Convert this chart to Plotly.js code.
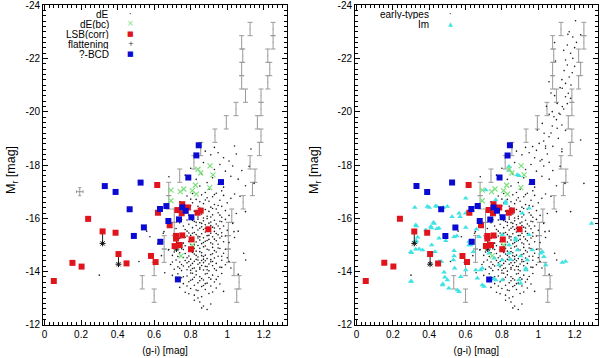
<!DOCTYPE html>
<html>
<head>
<meta charset="utf-8">
<script src="https://cdn.plot.ly/plotly-3.0.1.min.js"></script>
<style>
  body { margin: 0; background: #fff; }
  #chart { width: 600px; height: 358px; }
</style>
</head>
<body>
<div id="chart"></div>
<script>
// colour-magnitude diagram, two panels: (g-i) vs M_r

// running band limits (grey error bars), same in both panels
var bandMag = [-13.1, -13.6, -14.1, -14.6, -15.1, -15.6, -16.1, -16.6, -17.1, -17.6, -18.1,
               -18.6, -19.1, -19.6, -20.1, -20.6, -21.1, -21.6, -22.1, -22.6, -23.1];
var bandInner = [0.60, 0.535, 0.60, 0.655, 0.655, 0.71, 0.71, 0.68, 0.68, 0.74, 0.818,
                 0.855, 0.933, 0.995, 1.048, 1.10, 1.079, 1.079, 1.085, 1.079, 1.125];
var bandOuter = [1.052, 1.065, 1.037, 1.006, 1.006, 1.006, 1.025, 1.087, 1.138, 1.152, 1.125,
                 1.176, 1.185, 1.165, 1.185, 1.185, 1.222, 1.233, 1.222, 1.251, 1.251];
var bandHalf = 0.25;

// typical error cross (left panel)
var typErrGi = [0.193];
var typErrMag = [-17.0];
var typErrDGi = [0.018];
var typErrDMag = [0.15];

var dEGi = [
  // -18.7 .. -17
  0.88, 0.91, 0.95, 0.98, 1.01, 1.05, 1.03, 0.96, 0.93, 0.99, 1.02, 1.06, 0.87, 0.92, 0.95, 0.98, 0.86, 0.89,
  0.83, 0.80, 0.77, 1.08, 0.97, 0.90, 0.85, 1.10, 0.93, 1.04, 1.13, 1.12,
  // -17 .. -16
  0.74, 0.76, 0.78, 0.79, 0.80, 0.81, 0.82, 0.83, 0.84, 0.85, 0.86, 0.86, 0.87, 0.88, 0.88, 0.89, 0.90, 0.90,
  0.91, 0.92, 0.92, 0.93, 0.94, 0.94, 0.95, 0.96, 0.97, 0.97, 0.98, 0.99, 1.00, 1.02, 1.04, 1.05, 1.07, 0.81,
  0.83, 0.85, 0.87, 0.89, 0.91, 0.93, 0.95, 0.77, 0.80, 0.84, 0.88, 0.92, 0.96, 1.01,
  // -16 .. -15
  0.72, 0.73, 0.74, 0.75, 0.76, 0.76, 0.77, 0.78, 0.78, 0.79, 0.79, 0.80, 0.80, 0.81, 0.81, 0.82, 0.82, 0.83,
  0.83, 0.84, 0.84, 0.84, 0.85, 0.85, 0.86, 0.86, 0.86, 0.87, 0.87, 0.88, 0.88, 0.88, 0.89, 0.89, 0.90, 0.90,
  0.90, 0.91, 0.91, 0.92, 0.92, 0.93, 0.93, 0.94, 0.94, 0.95, 0.95, 0.96, 0.96, 0.97, 0.97, 0.98, 0.98, 0.99,
  1.00, 1.01, 1.03, 1.04, 0.77, 0.79, 0.81, 0.83, 0.85, 0.87, 0.89, 0.91, 0.93, 0.95, 0.82, 0.84, 0.86, 0.88,
  0.90, 0.92, 0.94, 0.96, 0.80, 0.78, 0.75, 0.74, 0.87, 0.85, 0.89, 0.91, 0.83, 0.81, 0.93, 0.97, 0.99, 1.06,
  // -15 .. -14
  0.68, 0.69, 0.70, 0.71, 0.72, 0.72, 0.73, 0.74, 0.74, 0.75, 0.75, 0.76, 0.76, 0.77, 0.77, 0.78, 0.78, 0.79,
  0.79, 0.80, 0.80, 0.81, 0.81, 0.82, 0.82, 0.83, 0.83, 0.84, 0.84, 0.85, 0.85, 0.86, 0.86, 0.87, 0.87, 0.88,
  0.88, 0.89, 0.89, 0.90, 0.90, 0.91, 0.91, 0.92, 0.92, 0.93, 0.93, 0.94, 0.94, 0.95, 0.96, 0.96, 0.97, 0.98,
  0.99, 1.00, 1.02, 0.79, 0.81, 0.83, 0.85, 0.87, 0.89, 0.84, 0.86, 0.88, 0.82, 0.80, 0.78, 0.76, 0.73, 0.71,
  0.90, 0.92, 0.94, 0.95, 0.97, 0.83, 0.85, 0.87, 0.80, 0.77, 0.75, 0.91, 0.93, 0.86, 0.84, 0.88, 0.82, 0.79,
  0.97, 0.99, 1.01, 0.74, 0.70, 0.89, 0.81, 0.85, 0.87, 0.92,
  // -14 .. -13
  0.70, 0.72, 0.73, 0.74, 0.75, 0.76, 0.77, 0.78, 0.79, 0.80, 0.80, 0.81, 0.82, 0.82, 0.83, 0.84, 0.84, 0.85,
  0.86, 0.86, 0.87, 0.88, 0.88, 0.89, 0.90, 0.90, 0.91, 0.92, 0.93, 0.94, 0.95, 0.96, 0.97, 0.98, 0.78, 0.81,
  0.83, 0.85, 0.87, 0.89, 0.91, 0.76, 0.79, 0.86, 0.92, 0.84, 0.88, 0.80, 0.94, 0.82,
  // fainter than -13
  0.85, 0.87, 0.89, 0.82, 0.91, 0.86,
  // outliers
  0.678, 0.517, 0.300, 0.654, 0.559, 0.577, 0.658, 0.650, 1.101, 1.100, 1.037, 1.147, 0.681, 1.09, 1.06, 0.64, 0.62
];
var dEMag = [
  -18.52, -18.38, -18.46, -18.27, -18.15, -18.41, -17.96, -18.02, -17.83, -17.77, -17.58, -17.47, -18.09, -17.52, -17.28, -17.17, -17.66, -17.34,
  -17.46, -17.88, -17.62, -17.79, -17.03, -17.09, -17.21, -17.22, -18.66, -18.71, -18.60, -17.95,
  -16.62, -16.31, -16.84, -16.12, -16.47, -16.93, -16.27, -16.71, -16.05, -16.39, -16.88, -16.16, -16.55, -16.33, -16.97, -16.08, -16.64, -16.26,
  -16.42, -16.81, -16.13, -16.52, -16.35, -16.94, -16.21, -16.68, -16.04, -16.45, -16.86, -16.29, -16.58, -16.75, -16.91, -16.18, -16.83, -16.58,
  -16.18, -16.62, -16.01, -16.77, -16.05, -16.89, -16.48, -16.44, -16.72, -16.45, -16.69, -16.37, -16.12, -16.11,
  -15.62, -15.18, -15.83, -15.41, -15.07, -15.71, -15.29, -15.94, -15.52, -15.13, -15.78, -15.36, -15.02, -15.65, -15.24, -15.88, -15.47, -15.11,
  -15.73, -15.33, -15.97, -15.56, -15.19, -15.84, -15.42, -15.05, -15.68, -15.27, -15.91, -15.49, -15.14, -15.76, -15.35, -15.99, -15.58, -15.21,
  -15.82, -15.44, -15.08, -15.67, -15.31, -15.93, -15.51, -15.16, -15.79, -15.38, -15.03, -15.61, -15.26, -15.87, -15.46, -15.12, -15.71, -15.34,
  -15.55, -15.09, -15.81, -15.28, -15.58, -15.45, -15.92, -15.39, -15.63, -15.09, -15.54, -15.86, -15.22, -15.71, -15.01, -15.26, -15.81, -15.63,
  -15.36, -15.04, -15.43, -15.89, -15.19, -15.34, -15.95, -15.25, -15.58, -15.31, -15.17, -15.73, -15.85, -15.44, -15.64, -15.33, -15.96, -15.52,
  -14.83, -14.27, -14.61, -14.09, -14.44, -14.92, -14.18, -14.71, -14.36, -14.04, -14.86, -14.53, -14.21, -14.68, -14.97, -14.33, -14.07, -14.59,
  -14.82, -14.24, -14.47, -14.93, -14.12, -14.66, -14.39, -14.02, -14.77, -14.28, -14.55, -14.88, -14.15, -14.42, -14.71, -14.06, -14.34, -14.96,
  -14.62, -14.19, -14.49, -14.81, -14.03, -14.37, -14.64, -14.22, -14.91, -14.51, -14.11, -14.74, -14.31, -14.58, -14.17, -14.87, -14.43, -14.69,
  -14.26, -14.52, -14.14, -14.38, -14.72, -14.46, -14.33, -14.57, -14.84, -14.98, -14.23, -14.41, -14.14, -14.79, -14.52, -14.83, -14.57, -14.74,
  -14.29, -14.67, -14.05, -14.89, -14.16, -14.61, -14.09, -14.93, -14.05, -14.42, -14.27, -14.45, -14.79, -14.60, -14.44, -14.20, -14.87, -14.18,
  -14.58, -14.84, -14.38, -14.13, -14.36, -14.07, -14.31, -14.75, -14.47, -14.38,
  -13.86, -13.64, -13.92, -13.41, -13.77, -13.55, -13.23, -13.84, -13.62, -13.37, -13.95, -13.71, -13.49, -13.12, -13.88, -13.58, -13.29, -13.81,
  -13.44, -13.06, -13.69, -13.91, -13.33, -13.57, -13.78, -13.18, -13.46, -13.87, -13.61, -13.39, -13.82, -13.54, -13.93, -13.26, -13.46, -13.94,
  -13.31, -13.66, -13.48, -13.93, -13.72, -13.81, -13.17, -13.74, -13.24, -13.01, -13.55, -13.68, -13.71, -13.79,
  -12.86, -12.71, -12.58, -12.93, -12.79, -12.64,
  -14.81, -14.38, -13.87, -15.50, -15.52, -15.31, -13.96, -15.44, -14.44, -16.25, -15.50, -17.31, -17.56, -14.69, -13.90, -14.60, -15.05
];

// bright early-types (right panel only, added to the dE)
var brightGi = [1.205, 1.163, 1.233, 1.090, 1.178, 1.150, 1.160, 1.142, 1.187, 1.059, 1.150, 1.132,
                1.165, 1.178, 1.150, 1.104, 1.132, 1.077, 1.114, 1.086, 1.022, 1.077, 1.104, 0.995,
                1.032, 1.059, 1.005, 0.969, 1.040, 1.233, 1.120, 1.070, 1.045, 1.095, 1.190, 1.200,
                1.178, 1.251,
                1.17, 1.19, 1.21, 1.14, 1.16, 1.20, 1.13, 1.17, 1.18, 1.12, 1.16, 1.09, 1.14, 1.10,
                1.13, 1.06, 1.07, 1.11, 1.03, 1.08, 1.13, 0.99, 1.02, 1.06, 1.15];
var brightMag = [-23.41, -22.90, -22.88, -22.59, -22.19, -21.94, -21.75, -21.54, -21.46, -21.12, -21.06, -20.88,
                 -20.69, -20.50, -20.56, -20.31, -20.19, -20.00, -19.94, -19.81, -19.56, -19.46, -19.38, -19.31,
                 -19.19, -19.06, -18.81, -18.69, -18.63, -18.94, -19.90, -20.70, -20.20, -21.90, -22.00, -22.40,
                 -16.25, -17.31,
                 -23.0, -22.8, -22.6, -22.3, -22.5, -21.7, -21.2, -21.3, -21.0, -20.9, -20.3, -20.6, -20.1, -19.7,
                 -19.5, -19.9, -19.2, -19.0, -18.9, -18.7, -18.5, -18.55, -18.2, -18.1, -19.3];

// dE(bc)
var bcGi = [0.840, 0.855, 0.906, 0.922, 0.904, 0.826, 0.809, 0.831, 0.762, 0.743, 0.692, 0.692, 0.747, 0.809];
var bcMag = [-17.84, -17.70, -17.97, -17.63, -17.15, -17.24, -17.04, -16.91, -17.10, -17.00, -17.06, -16.66, -14.59, -14.98];

// LSB(corr)
var lsbGi = [0.051, 0.153, 0.203, 0.239, 0.318, 0.389, 0.405, 0.449, 0.583, 0.608, 0.617, 0.621, 0.685, 0.727,
             0.720, 0.720, 0.712, 0.740, 0.754, 0.751, 0.754, 0.785, 0.805, 0.802, 0.838, 0.855, 0.897];
var lsbMag = [-13.65, -14.33, -14.19, -15.98, -15.51, -15.46, -14.66, -14.31, -14.59, -14.36, -17.25, -16.21, -15.74, -16.31,
              -15.34, -15.24, -14.96, -15.00, -16.53, -16.19, -15.36, -16.41, -15.21, -14.84, -16.21, -16.29, -15.59];

// flattening correction: from LSB magnitude to corrected one
var flatGi = [0.318, 0.405, 0.722];
var flatFrom = [-15.51, -14.66, -15.24];
var flatTo = [-15.06, -14.28, -14.85];

// ?-BCD
var bcdGi = [0.330, 0.389, 0.526, 0.466, 0.544, 0.489, 0.632, 0.667, 0.634, 0.678, 0.730, 0.754, 0.773, 0.736,
             0.804, 0.787, 0.966, 0.844, 0.831];
var bcdMag = [-17.21, -16.99, -17.34, -16.34, -15.66, -15.34, -16.35, -16.46, -15.12, -15.90, -13.71, -16.41, -16.28, -15.96,
              -16.04, -17.53, -17.36, -18.74, -18.36];

// Im (right panel)
var imGi = [
  0.326, 0.330, 0.299, 0.299, 0.345, 0.381, 0.390, 0.409, 0.436, 0.427, 0.454, 0.454, 0.473, 0.500, 0.500,
  0.533, 0.537, 0.537, 0.555, 0.564, 0.574, 0.601, 0.601, 0.619, 0.637, 0.656, 0.674, 0.683, 0.692, 0.711,
  0.738, 0.755, 0.766, 0.784, 0.802, 0.821, 0.839, 0.876, 0.885, 0.903, 0.912, 0.931, 0.940, 0.949, 0.967,
  1.022, 1.031, 1.041, 1.132, 1.150, 1.293, 0.839, 0.839, 0.894,
  0.821, 0.660, 0.628, 0.729, 0.757, 0.802, 0.848, 0.903, 0.885, 1.013, 0.692, 0.656, 0.665, 0.702, 0.766,
  0.802, 0.894, 0.931, 0.949, 0.876, 0.839,
  0.321, 0.400, 0.442, 0.478, 0.330, 0.423, 0.442, 0.412, 0.454, 0.336, 0.491, 0.323, 0.302, 0.326, 0.363,
  0.414, 0.432, 0.467, 0.482, 0.486, 0.475, 0.508, 0.564, 0.302, 0.537, 0.540, 0.526, 0.570, 0.601, 0.552,
  0.601, 0.619, 0.643
];
var imMag = [
  -15.75, -15.15, -14.75, -13.63, -14.85, -15.56, -16.44, -15.69, -16.46, -15.81, -15.63, -14.38, -13.50, -13.69, -16.44,
  -14.44, -15.31, -14.78, -13.31, -16.19, -13.81, -16.19, -14.06, -15.00, -15.06, -16.44, -15.31, -14.06, -13.50, -17.06,
  -13.75, -13.73, -16.69, -14.25, -15.38, -16.56, -14.69, -15.19, -17.63, -13.56, -16.19, -14.13, -14.44, -16.38, -14.81,
  -14.75, -14.56, -14.25, -14.34, -14.38, -15.81, -17.94, -17.80, -17.60,
  -16.63, -15.59, -15.00, -14.69, -14.50, -14.44, -14.46, -14.59, -14.81, -14.69, -14.13, -14.06, -13.75, -13.44, -13.69,
  -13.69, -13.69, -14.06, -15.38, -15.25, -15.00,
  -16.41, -16.41, -16.44, -16.41, -15.71, -15.84, -15.61, -15.64, -15.25, -15.29, -15.16, -15.13, -14.71, -14.84, -14.81,
  -15.00, -14.75, -14.38, -13.98, -13.79, -13.54, -13.38, -13.25, -13.64, -14.59, -14.13, -16.06, -16.06, -16.75, -15.34,
  -15.66, -15.13, -14.75
];

var magTicks = [-24, -22, -20, -18, -16, -14, -12];

var cRed = '#e0141c', cBlue = '#0a0ad2', cGreen = '#7ee07e', cCyan = '#3fe3e3', cGrey = '#9a9a9a';

function bandTrace(xa, ya) {
    return {
        x: bandInner.concat(bandOuter), y: bandMag.concat(bandMag),
        xaxis: xa, yaxis: ya, type: 'scatter', mode: 'markers',
        marker: {size: 1, color: cGrey},
        error_y: {type: 'constant', value: bandHalf, color: cGrey, thickness: 1, width: 2.5},
        hoverinfo: 'skip'
    };
}

function flatTraces(xa, ya) {
    var lx = [], ly = [];
    flatGi.forEach(function(g, i) {
        lx.push(g, g, null);
        ly.push(flatFrom[i], flatTo[i], null);
    });
    return [
        {x: lx, y: ly, xaxis: xa, yaxis: ya, type: 'scatter', mode: 'lines',
         line: {color: '#222', width: 1}},
        {x: flatGi, y: flatTo, xaxis: xa, yaxis: ya, type: 'scatter', mode: 'markers',
         marker: {symbol: 'asterisk-open', size: 5, color: '#111', line: {width: 1, color: '#111'}}}
    ];
}

function colourTraces(xa, ya) {
    return [
        {x: bcGi, y: bcMag, xaxis: xa, yaxis: ya, type: 'scatter', mode: 'markers',
         marker: {symbol: 'x-thin-open', size: 5, color: cGreen, line: {width: 1.2, color: cGreen}}},
        {x: lsbGi, y: lsbMag, xaxis: xa, yaxis: ya, type: 'scatter', mode: 'markers',
         marker: {symbol: 'square', size: 6, color: cRed}},
        {x: bcdGi, y: bcdMag, xaxis: xa, yaxis: ya, type: 'scatter', mode: 'markers',
         marker: {symbol: 'square', size: 6, color: cBlue}}
    ];
}

var dotMarker = {size: 1.6, color: '#1a1a1a'};

var data = [];
// left panel
data.push(bandTrace('x', 'y'));
data.push({x: typErrGi, y: typErrMag, type: 'scatter', mode: 'markers',
    marker: {size: 1, color: cGrey},
    error_x: {type: 'data', array: typErrDGi, color: cGrey, thickness: 1, width: 1.5},
    error_y: {type: 'data', array: typErrDMag, color: cGrey, thickness: 1, width: 1.5}});
data.push({x: dEGi, y: dEMag, type: 'scatter', mode: 'markers', marker: dotMarker});
data = data.concat(flatTraces('x', 'y'));
data = data.concat(colourTraces('x', 'y'));
// right panel
data.push(bandTrace('x2', 'y2'));
data.push({x: dEGi.concat(brightGi), y: dEMag.concat(brightMag), xaxis: 'x2', yaxis: 'y2',
    type: 'scatter', mode: 'markers', marker: dotMarker});
data.push({x: imGi, y: imMag, xaxis: 'x2', yaxis: 'y2', type: 'scatter', mode: 'markers',
    marker: {symbol: 'triangle-up', size: 5, color: cCyan}});
data = data.concat(flatTraces('x2', 'y2'));
data = data.concat(colourTraces('x2', 'y2'));

var baseFont = {family: 'Liberation Sans, Arial, sans-serif', size: 10, color: '#000'};

function xAxis(dom, anchor) {
    return {
        domain: dom, anchor: anchor, range: [-0.008, 1.327],
        tick0: 0, dtick: 0.2, ticks: 'inside', ticklen: 5, tickcolor: '#000',
        minor: {dtick: 0.025, ticks: 'inside', ticklen: 2.5, tickcolor: '#000'},
        showline: true, linecolor: '#000', linewidth: 1, mirror: 'allticks',
        showgrid: false, zeroline: false, tickfont: baseFont, ticklabeloverflow: 'allow',
        title: {text: '(g-i) [mag]', font: baseFont, standoff: 8}
    };
}

function yAxis(dom, anchor) {
    return {
        domain: dom, anchor: anchor, range: [-12, -24],
        tickvals: magTicks, ticktext: magTicks.map(function(v) { return '' + v; }),
        ticks: 'inside', ticklen: 5, tickcolor: '#000',
        minor: {dtick: 0.2, ticks: 'inside', ticklen: 2.5, tickcolor: '#000'},
        showline: true, linecolor: '#000', linewidth: 1, mirror: 'allticks',
        showgrid: false, zeroline: false, tickfont: baseFont, ticklabeloverflow: 'allow'
    };
}

// gnuplot-style key: label right-aligned, symbol to its right
function keyRows(xText, xSym, rows) {
    var out = [];
    rows.forEach(function(r) {
        out.push({xref: 'paper', yref: 'paper', x: xText, y: r[3], xanchor: 'right', yanchor: 'middle',
                  text: r[0], showarrow: false, font: baseFont, borderpad: 0, height: 10});
        out.push({xref: 'paper', yref: 'paper', x: xSym, y: r[3], xanchor: 'center', yanchor: 'middle',
                  text: r[1], showarrow: false, borderpad: 0,
                  font: {family: 'DejaVu Sans, sans-serif', size: r[4], color: r[2]}});
    });
    return out;
}

var annotations = keyRows(0.1833, 0.2183, [
    ['dE', '·', '#111', 1 - 14 / 358, 8],
    ['dE(bc)', '×', cGreen, 1 - 23.5 / 358, 8],
    ['LSB(corr)', '■', cRed, 1 - 33.8 / 358, 7],
    ['flattening', '+', '#333', 1 - 44.2 / 358, 7],
    ['?-BCD', '■', cBlue, 1 - 54.3 / 358, 7]
]).concat(keyRows(0.7167, 0.7512, [
    ['early-types', '·', '#111', 1 - 14 / 358, 8],
    ['Im', '▲', cCyan, 1 - 23.5 / 358, 6]
]));

// y-axis titles, placed like the gnuplot ones
[12 / 600, 315 / 600].forEach(function(px) {
    annotations.push({xref: 'paper', yref: 'paper', x: px, y: 1 - 170 / 358, xanchor: 'center', yanchor: 'middle',
                      text: 'M<sub>r</sub> [mag]', textangle: -90, showarrow: false,
                      font: {family: baseFont.family, size: 12.5, color: '#000'}});
});

var layout = {
    width: 600, height: 358,
    margin: {l: 0, r: 0, t: 0, b: 0},
    paper_bgcolor: '#fff', plot_bgcolor: '#fff',
    showlegend: false, font: baseFont,
    xaxis: xAxis([0.0717, 0.4783], 'y'),
    yaxis: yAxis([0.0922, 0.986], 'x'),
    xaxis2: xAxis([0.5917, 0.9962], 'y2'),
    yaxis2: yAxis([0.0922, 0.986], 'x2'),
    annotations: annotations
};

Plotly.newPlot('chart', data, layout, {staticPlot: true});
</script>
</body>
</html>
